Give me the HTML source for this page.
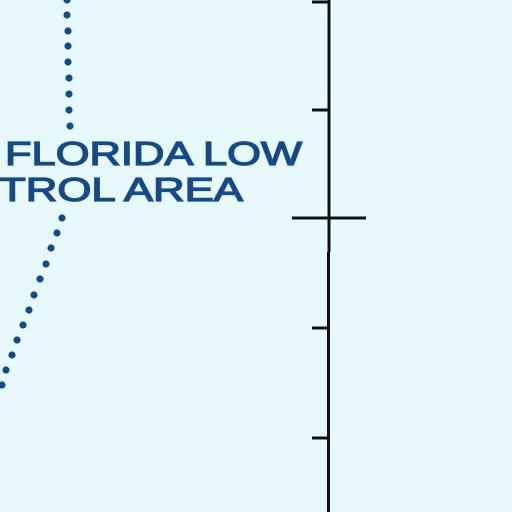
<!DOCTYPE html>
<html><head><meta charset="utf-8"><style>
html,body{margin:0;padding:0;background:#e8f9fd;}
svg{display:block}
</style></head><body>
<svg width="512" height="512" viewBox="0 0 512 512">
<rect width="512" height="512" fill="#e8f9fd"/>
<g fill="#164a86" id="dots"></g>
<g stroke="#111" stroke-width="3">
<line x1="329" y1="0" x2="329" y2="252"/>
<line x1="328.5" y1="252" x2="328.5" y2="512"/>
<line x1="292" y1="218" x2="366" y2="218"/>
<line x1="312" y1="2" x2="329" y2="2"/>
<line x1="312" y1="110" x2="329" y2="110"/>
<line x1="312" y1="328" x2="329" y2="328"/>
<line x1="312" y1="438" x2="329" y2="438"/>
</g>
<g fill="#164a86" font-family="Liberation Sans, sans-serif" font-size="33" stroke="#164a86" stroke-width="1.3">
<text x="5" y="165" textLength="297" lengthAdjust="spacingAndGlyphs">FLORIDA LOW</text>
<text x="-1" y="201" textLength="244" lengthAdjust="spacingAndGlyphs">TROL AREA</text>
</g>
</svg>
<script>
const pts=[[67,0],[67,15],[68,31],[68,46],[68,62],[69,78],[69,94],[69,110],[70,126],[62,218],[57,233],[51,248],[46,264],[40,279],[34,295],[29,310],[23,325],[17,340],[12,355],[6,370],[2,385]];
const g=document.getElementById('dots');
pts.forEach(p=>{const c=document.createElementNS('http://www.w3.org/2000/svg','circle');
c.setAttribute('cx',p[0]);c.setAttribute('cy',p[1]);c.setAttribute('r',3.6);


g.appendChild(c);});
</script>
</body></html>
